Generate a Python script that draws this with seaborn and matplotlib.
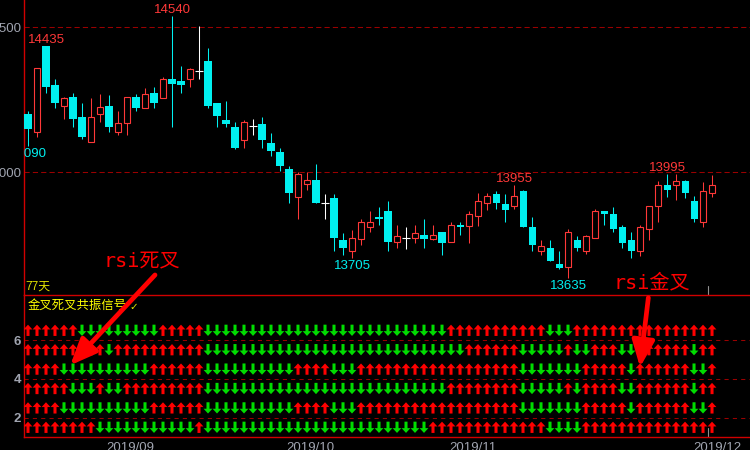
#!/usr/bin/env python3
"""Daily candlesticks with a six-row golden/death cross resonance panel.

Saves the figure to `out.png`.
"""
import numpy as np
import pandas as pd
import matplotlib
matplotlib.use('Agg')
import matplotlib.pyplot as plt
from matplotlib.path import Path
import seaborn as sns

# daily bars, 77 trading days
opens = [14200, 14140, 14435, 14300, 14230, 14260, 14190, 14105, 14200, 14230,
         14140, 14170, 14260, 14220, 14275, 14255, 14320, 14315, 14320, 14350,
         14385, 14240, 14180, 14155, 14110, 14160, 14165, 14100, 14070, 14010,
         13915, 13960, 13975, 13895, 13910, 13765, 13730, 13770, 13810, 13845,
         13865, 13760, 13775, 13775, 13785, 13770, 13795, 13760, 13820, 13815,
         13850, 13895, 13925, 13890, 13885, 13935, 13810, 13730, 13740, 13685,
         13675, 13765, 13730, 13775, 13865, 13855, 13810, 13765, 13730, 13805,
         13885, 13955, 13955, 13970, 13900, 13830, 13930]
highs = [14210, 14360, 14435, 14320, 14260, 14275, 14240, 14255, 14270, 14265,
         14210, 14260, 14270, 14290, 14295, 14330, 14540, 14365, 14360, 14505,
         14430, 14240, 14245, 14175, 14180, 14185, 14190, 14135, 14085, 14020,
         14000, 14000, 14030, 13925, 13925, 13790, 13800, 13840, 13865, 13880,
         13900, 13820, 13810, 13820, 13840, 13820, 13795, 13830, 13830, 13865,
         13930, 13930, 13935, 13925, 13955, 13940, 13845, 13765, 13765, 13730,
         13805, 13780, 13785, 13875, 13865, 13880, 13820, 13795, 13820, 13885,
         13970, 13995, 13995, 13975, 13920, 13965, 13990]
lows = [14090, 14120, 14275, 14220, 14185, 14155, 14115, 14105, 14175, 14140,
        14130, 14130, 14210, 14220, 14220, 14255, 14155, 14275, 14295, 14320,
        14220, 14155, 14155, 14080, 14085, 14130, 14085, 14055, 14005, 13895,
        13840, 13940, 13895, 13840, 13730, 13715, 13705, 13750, 13795, 13820,
        13730, 13740, 13735, 13755, 13740, 13765, 13715, 13760, 13785, 13755,
        13815, 13870, 13875, 13830, 13875, 13810, 13730, 13715, 13695, 13665,
        13635, 13730, 13720, 13775, 13820, 13795, 13740, 13705, 13710, 13765,
        13830, 13915, 13905, 13910, 13830, 13810, 13915]
closes = [14150, 14360, 14295, 14240, 14255, 14185, 14120, 14190, 14225, 14155,
          14170, 14260, 14220, 14270, 14240, 14320, 14305, 14300, 14355, 14350,
          14230, 14195, 14165, 14085, 14175, 14160, 14110, 14075, 14020, 13930,
          13995, 13975, 13895, 13895, 13775, 13740, 13775, 13830, 13830, 13840,
          13760, 13780, 13775, 13790, 13770, 13785, 13755, 13820, 13810, 13855,
          13900, 13920, 13895, 13870, 13920, 13810, 13750, 13745, 13695, 13670,
          13795, 13740, 13780, 13865, 13855, 13805, 13755, 13730, 13810, 13885,
          13955, 13940, 13970, 13930, 13840, 13935, 13955]

# bars whose extreme is written on the chart
high_marks = [2, 16, 54, 71]
low_marks = [0, 36, 60]

# six cross signals: run lengths, alternating up / down, first run is up
signal_runs = [
    [6, 9, 5, 27, 11, 3, 16],
    [9, 1, 10, 29, 6, 5, 1, 2, 3, 2, 6, 1, 2],
    [4, 10, 6, 10, 4, 3, 18, 7, 5, 1, 6, 2, 1],
    [5, 3, 1, 2, 9, 27, 8, 5, 1, 1, 4, 2, 6, 1, 2],
    [4, 10, 6, 10, 4, 3, 18, 7, 5, 1, 6, 2, 1],
    [8, 11, 1, 25, 13, 4, 15],
]
signal_levels = [6.5, 5.5, 4.5, 3.5, 2.5, 1.5]

month_labels = ['2019/09', '2019/10', '2019/11', '2019/12']
month_pos = [11.4, 31.4, 49.4, 76.6]
price_ticks = [14000, 14500]
signal_ticks = [2, 4, 6]

death_cross = (4.7, 4.7)
golden_cross = (68.0, 4.6)

RED = '#FF3838'
CYAN = '#00F0F0'
GREEN = '#00DD00'
ARROW_RED = '#FF0000'
GRID = '#9A0000'
SPINE = '#D00000'
TICK = '#A0A4B0'

sns.set_theme(style='dark', rc={'axes.facecolor': 'black', 'figure.facecolor': 'black'})
plt.rcParams['font.family'] = ['Liberation Sans', 'Noto Sans CJK SC', 'DejaVu Sans']

bars = pd.DataFrame({'open': opens, 'high': highs, 'low': lows, 'close': closes})
bars['day'] = np.arange(len(bars))
bars['kind'] = np.select([bars.close > bars.open, bars.close < bars.open], ['up', 'down'], 'flat')

recs = []
for level, runs in zip(signal_levels, signal_runs):
    day = 0
    for k, n in enumerate(runs):
        for _ in range(n):
            recs.append((day, level, 'up' if k % 2 == 0 else 'down'))
            day += 1
    assert day == len(bars), day
sig = pd.DataFrame(recs, columns=['day', 'level', 'state'])

fig = plt.figure(figsize=(7.5, 4.5), dpi=100)
ax1 = fig.add_axes([24 / 750, 1 - 295 / 450, 1 - 24 / 750, 295 / 450])
ax2 = fig.add_axes([24 / 750, 1 - 437 / 450, 1 - 24 / 750, 142 / 450])

# --- candles ---
wick_col = bars['kind'].map({'up': RED, 'down': CYAN, 'flat': 'white'})
ax1.vlines(bars['day'], bars['low'], bars['high'], colors=wick_col, lw=0.75, zorder=2)
up = bars[bars.kind == 'up']
ax1.bar(up['day'], up['close'] - up['open'], bottom=up['open'], width=0.7,
        facecolor='black', edgecolor=RED, linewidth=0.8, zorder=3)
dn = bars[bars.kind == 'down']
ax1.bar(dn['day'], dn['open'] - dn['close'], bottom=dn['close'], width=0.78,
        color=CYAN, linewidth=0, zorder=3)
flat = bars[bars.kind == 'flat']
ax1.hlines(flat['close'], flat['day'] - 0.39, flat['day'] + 0.39, colors='white', lw=0.8, zorder=3)

for i in high_marks:
    ax1.annotate(f'{highs[i]}', xy=(i, highs[i]), xytext=(0, 2.2), textcoords='offset points',
                 ha='center', va='baseline', color=RED, fontsize=9.5, clip_on=True)
for i in low_marks:
    ax1.annotate(f'{lows[i]}', xy=(i, lows[i]), xytext=(0, -1.2), textcoords='offset points',
                 ha='center', va='top', color=CYAN, fontsize=9.5, clip_on=True)

for p in price_ticks:
    ax1.axhline(p, color=GRID, lw=0.75, ls=(0, (5, 3)), zorder=1)
ax1.set_xlim(-0.444, 80.22)
ax1.set_ylim(13577, 14594)
ax1.set_yticks(price_ticks)
ax1.set_yticklabels([str(p) for p in price_ticks])
ax1.set_xticks([])
ax1.tick_params(axis='y', length=0, pad=1.5, labelcolor=TICK, labelsize=9.5)
ax1.grid(False)
for side in ['top', 'right', 'bottom']:
    ax1.spines[side].set_visible(False)
ax1.spines['left'].set_color(SPINE)
ax1.spines['left'].set_linewidth(1.0)
ax1.axvline(75.55, ymin=0, ymax=9 / 295, color='#909090', lw=0.8)
ax1.text(0.0015, 0.027, '77天', transform=ax1.transAxes, color='#E0E000',
         fontsize=8.6, va='center', ha='left')
ax1.text(12.7, 13692, 'rsi死叉', color=ARROW_RED, fontsize=14.5, ha='center', va='center',
         family=['DejaVu Sans Mono', 'Noto Sans CJK SC'], zorder=6)
ax1.text(69.3, 13618, 'rsi金叉', color=ARROW_RED, fontsize=14.5, ha='center', va='center',
         family=['DejaVu Sans Mono', 'Noto Sans CJK SC'], zorder=6)

# --- cross signal panel ---
UP = Path([(0, 1), (0.78, 0.15), (0.27, 0.15), (0.27, -1), (-0.27, -1),
           (-0.27, 0.15), (-0.78, 0.15), (0, 1)], closed=True)
DOWN = Path([(x, -y) for x, y in UP.vertices], closed=True)
sns.scatterplot(data=sig[sig.state == 'up'], x='day', y='level', marker=UP, s=66,
                color='#FF0000', edgecolor='none', linewidth=0, legend=False, ax=ax2, zorder=3)
sns.scatterplot(data=sig[sig.state == 'down'], x='day', y='level', marker=DOWN, s=66,
                color=GREEN, edgecolor='none', linewidth=0, legend=False, ax=ax2, zorder=3)
for t in signal_ticks:
    ax2.axhline(t, color=GRID, lw=0.75, ls=(0, (4, 4)), zorder=1)
ax2.set_xlim(-0.444, 80.22)
ax2.set_ylim(1.0, 8.32)
ax2.set_yticks(signal_ticks)
ax2.set_yticklabels([str(t) for t in signal_ticks], fontweight='bold')
ax2.set_xticks(month_pos)
ax2.set_xticklabels(month_labels)
ax2.set_xlabel('')
ax2.set_ylabel('')
ax2.tick_params(axis='y', length=0, pad=2, labelcolor=TICK, labelsize=9.5)
ax2.tick_params(axis='x', length=0, pad=3.8, labelcolor=TICK, labelsize=9.5)
ax2.grid(False)
ax2.spines['right'].set_visible(False)
for side in ['left', 'top', 'bottom']:
    ax2.spines[side].set_color(SPINE)
    ax2.spines[side].set_linewidth(1.0)
ax2.axvline(75.55, ymin=0, ymax=9 / 142, color='#909090', lw=0.8)
title = ax2.text(0.0055, 0.925, '金叉死叉共振信号', transform=ax2.transAxes, color='#FFFF00',
                 fontsize=8.9, va='center', ha='left')
ax2.annotate('✓', xy=(1, 0.4), xycoords=title, xytext=(1.5, 0), textcoords='offset points',
             color='#E6E600', fontsize=7.5, va='center', ha='left', family='DejaVu Sans')

arrow_kw = dict(arrowstyle='-|>,head_length=0.4,head_width=0.17', color=ARROW_RED,
                lw=3.4, mutation_scale=40, shrinkA=0, shrinkB=0)
ax2.annotate('', xy=death_cross, xytext=(61, 65), textcoords='offset points',
             arrowprops=arrow_kw, annotation_clip=False, zorder=6)
ax2.annotate('', xy=golden_cross, xytext=(6, 50), textcoords='offset points',
             arrowprops=arrow_kw, annotation_clip=False, zorder=6)

fig.savefig('out.png', dpi=100, facecolor='black')
